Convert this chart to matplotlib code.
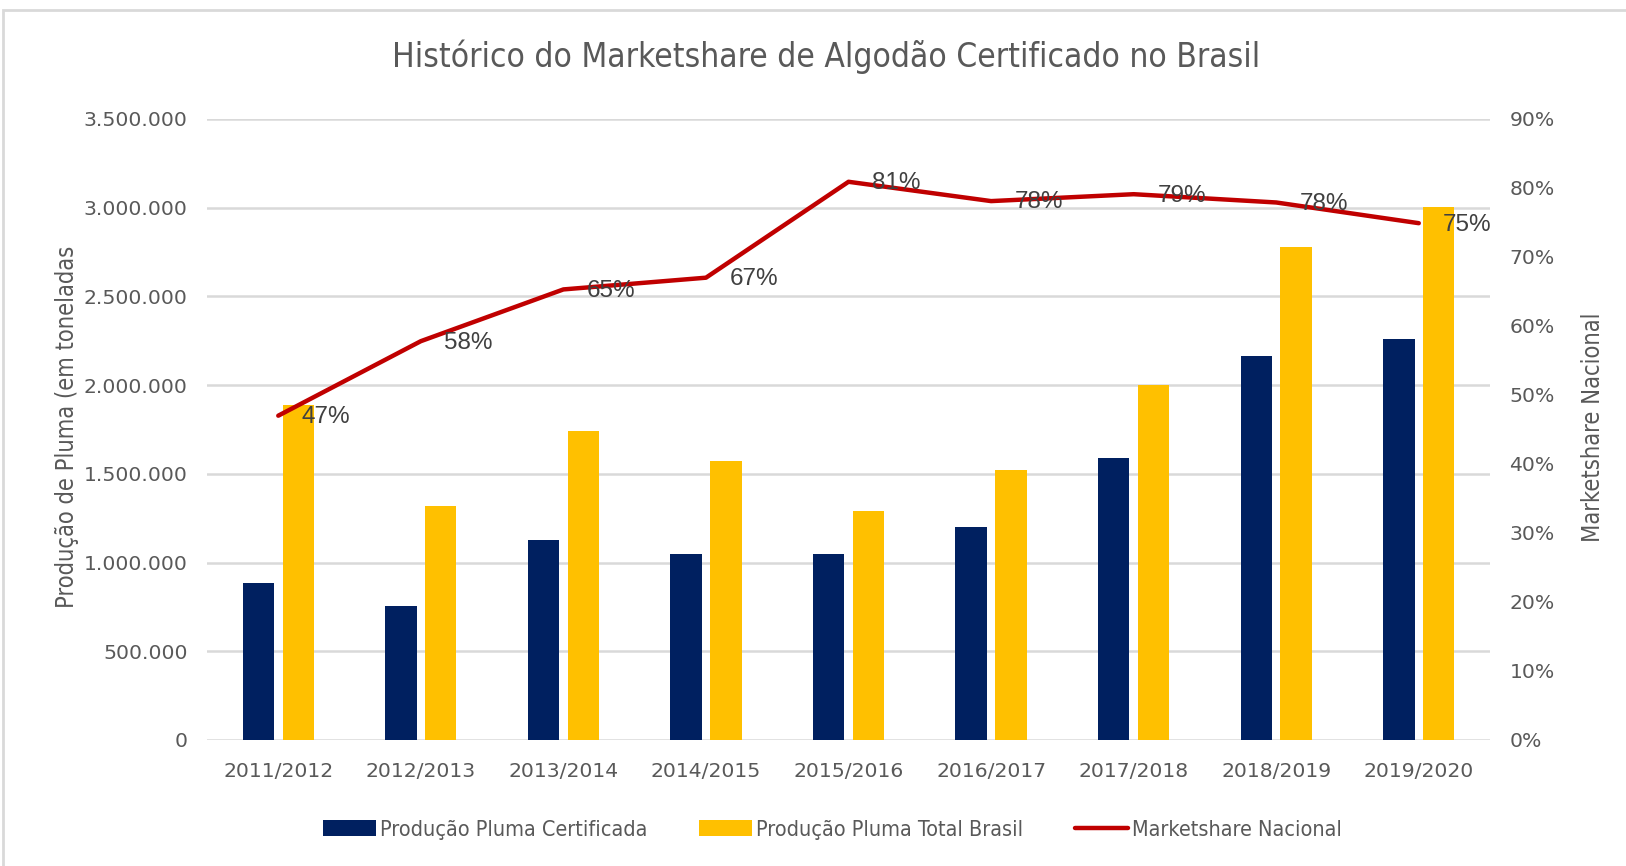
import numpy as np
import matplotlib.pyplot as plt
from matplotlib.patches import Rectangle
from matplotlib.ticker import FuncFormatter, MultipleLocator

safras = ['2011/2012', '2012/2013', '2013/2014', '2014/2015', '2015/2016',
          '2016/2017', '2017/2018', '2018/2019', '2019/2020']
certificada = [887000, 753000, 1127000, 1051000, 1051000, 1203000, 1589000, 2167000, 2260000]
total_brasil = [1886000, 1320000, 1740000, 1571000, 1291000, 1524000, 2003000, 2780000, 3002000]
marketshare = [0.470, 0.578, 0.653, 0.670, 0.809, 0.781, 0.791, 0.779, 0.749]
rotulos = ['47%', '58%', '65%', '67%', '81%', '78%', '79%', '78%', '75%']

cinza = '#595959'
cond = dict(family='DejaVu Sans', stretch='condensed')

fig = plt.figure(figsize=(16.26, 8.66), dpi=100)
fig.patches.append(Rectangle((0.002, -0.01), 1.2, 0.998, transform=fig.transFigure,
                             fill=False, edgecolor='#d9d9d9', linewidth=2))
ax = fig.add_axes([0.1273, 0.1455, 0.7891, 0.7171])
ax2 = ax.twinx()

x = np.arange(len(safras))
w = 0.22
b1 = ax.bar(x - 0.14, certificada, w, color='#002060', zorder=3,
            label='Produção Pluma Certificada')
b2 = ax.bar(x + 0.14, total_brasil, w, color='#ffc000', zorder=3,
            label='Produção Pluma Total Brasil')

ax.set_xlim(-0.5, len(safras) - 0.5)
ax.set_ylim(0, 3500000)
ax.yaxis.set_major_locator(MultipleLocator(500000))
ax.yaxis.set_major_formatter(FuncFormatter(lambda v, p: f'{int(v):,}'.replace(',', '.')))
ax.grid(axis='y', color='#d9d9d9', linewidth=1.8, zorder=0)
ax.set_axisbelow(True)
ax.set_xticks(x)
ax.set_xticklabels(safras)
ax.tick_params(axis='both', length=0, labelsize=14.7, colors=cinza, pad=14)
ax.tick_params(axis='x', pad=16)

ln, = ax2.plot(x, marketshare, color='#c00000', linewidth=3.2, zorder=4,
               solid_capstyle='round', label='Marketshare Nacional')
for xi, m, r in zip(x, marketshare, rotulos):
    ax2.annotate(r, (xi, m), xytext=(17, -1), textcoords='offset points',
                 ha='left', va='center', fontsize=17.5, color='#404040',
                 family=['Liberation Sans', 'DejaVu Sans'], zorder=5)
ax2.set_ylim(0, 0.9)
ax2.yaxis.set_major_locator(MultipleLocator(0.1))
ax2.yaxis.set_major_formatter(FuncFormatter(lambda v, p: f'{v*100:.0f}%'))
ax2.tick_params(axis='y', length=0, labelsize=14.7, colors=cinza, pad=14)

for a in (ax, ax2):
    for s in a.spines.values():
        s.set_visible(False)

fig.text(0.508, 0.934, 'Histórico do Marketshare de Algodão Certificado no Brasil',
         ha='center', va='center', fontsize=24, color=cinza, **cond)
fig.text(0.041, 0.507, 'Produção de Pluma (em toneladas', rotation=90,
         ha='center', va='center', fontsize=17, color=cinza, **cond)
fig.text(0.980, 0.507, 'Marketshare Nacional', rotation=90,
         ha='center', va='center', fontsize=17, color=cinza, **cond)

fig.legend(handles=[b1, b2, ln], loc='center', bbox_to_anchor=(0.512, 0.042),
           ncol=3, frameon=False, prop=dict(size=15.5, **cond),
           labelcolor=cinza, handlelength=2.45, handleheight=0.75,
           handletextpad=0.2, columnspacing=2.4)

fig.savefig('out.png', dpi=100)
